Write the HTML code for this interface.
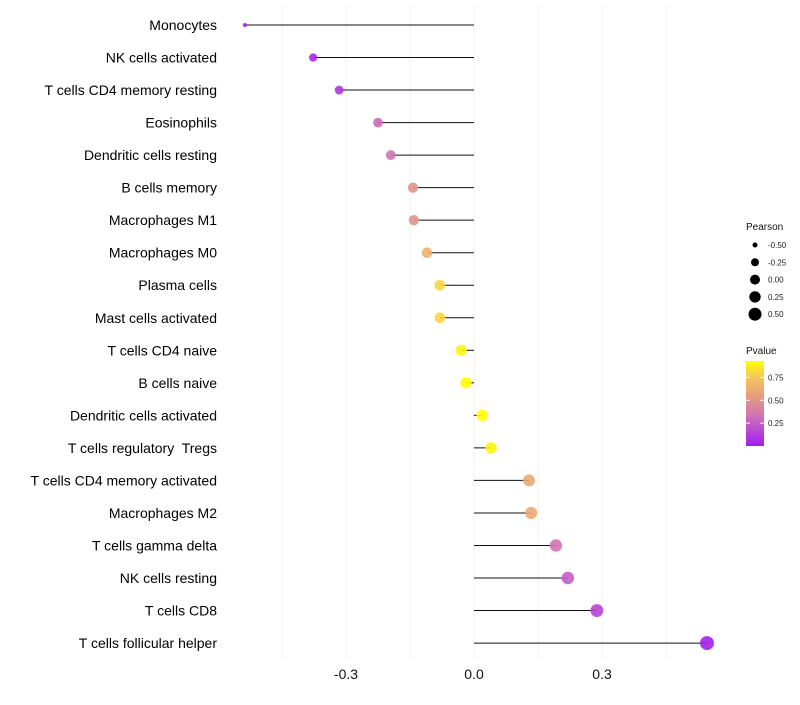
<!DOCTYPE html>
<html><head><meta charset="utf-8"><style>
body{margin:0;background:#fff;font-family:"Liberation Sans",sans-serif}
</style></head><body>
<svg id="chart" width="800" height="700" xmlns="http://www.w3.org/2000/svg"></svg>
<script>
const categories=["Monocytes","NK cells activated","T cells CD4 memory resting","Eosinophils","Dendritic cells resting","B cells memory","Macrophages M1","Macrophages M0","Plasma cells","Mast cells activated","T cells CD4 naive","B cells naive","Dendritic cells activated","T cells regulatory  Tregs","T cells CD4 memory activated","Macrophages M2","T cells gamma delta","NK cells resting","T cells CD8","T cells follicular helper"];
const pearson=[-0.537,-0.377,-0.316,-0.225,-0.195,-0.143,-0.141,-0.110,-0.080,-0.080,-0.030,-0.019,0.019,0.040,0.129,0.134,0.192,0.220,0.288,0.546];
const pvalue=[0.01,0.05,0.1,0.3,0.35,0.5,0.5,0.65,0.8,0.8,0.9,0.95,0.95,0.9,0.6,0.6,0.35,0.25,0.15,0.01];
const xTicks=[-0.3,0.0,0.3];
const sizeTicks=[-0.5,-0.25,0,0.25,0.5];
const pTicks=[0.75,0.5,0.25];
const NS="http://www.w3.org/2000/svg";
const svg=document.getElementById('chart');
function mk(t,a,p){const e=document.createElementNS(NS,t);for(const k in a)e.setAttribute(k,a[k]);(p||svg).appendChild(e);return e;}
const x=v=>474+v*426.7;
const y=i=>25+i*32.53;
const r=v=>2+5*Math.pow(Math.max(0,(v+0.537)/1.083),0.45);
const stops=[[0,[162,29,240]],[0.35,[208,113,184]],[0.6,[232,160,122]],[0.8,[245,195,96]],[1,[255,255,0]]];
function col(p){const t=Math.max(0,Math.min(1,p/0.93));for(let i=1;i<stops.length;i++){if(t<=stops[i][0]){const a=stops[i-1],b=stops[i],f=(t-a[0])/(b[0]-a[0]);return 'rgb('+a[1].map((c,j)=>Math.round(c+(b[1][j]-c)*f)).join(',')+')';}}return 'rgb(255,255,0)';}
for(let v=-0.45;v<=0.46;v+=0.15){const g=mk('line',{x1:x(v),x2:x(v),y1:5,y2:660,stroke:'#f0f0f0','stroke-width':1});

}
xTicks.forEach(v=>{const t=mk('text',{x:x(v),y:679,'font-size':14,'text-anchor':'middle',fill:'#111'});t.textContent=v.toFixed(1);

});
categories.forEach((c,i)=>{
const t=mk('text',{x:217,y:y(i)+5,'font-size':14,'text-anchor':'end',fill:'#000'});t.setAttribute('style','white-space:pre');t.textContent=c;


const l=mk('line',{x1:x(0),x2:x(pearson[i]),y1:y(i),y2:y(i),stroke:'#111','stroke-width':1});


const d=mk('circle',{cx:x(pearson[i]),cy:y(i),r:r(pearson[i]),fill:col(pvalue[i]),'fill-opacity':0.9});


});
let t=mk('text',{x:746,y:230,'font-size':10,fill:'#111'});t.textContent='Pearson';


const legR=[2.5,4,5,5.7,6.5];
sizeTicks.forEach((v,i)=>{const cy=245+i*17.3;
const c=mk('circle',{cx:755,cy:cy,r:legR[i],fill:'#000'});


const tt=mk('text',{x:768,y:cy+3,'font-size':8,fill:'#222'});tt.textContent=v.toFixed(2);

});
t=mk('text',{x:746,y:354,'font-size':10,fill:'#111'});t.textContent='Pvalue';


const defs=mk('defs',{});const lg=mk('linearGradient',{id:'pg',x1:0,y1:1,x2:0,y2:0},defs);
stops.forEach(s=>mk('stop',{offset:s[0],'stop-color':'rgb('+s[1].join(',')+')'},lg));
const bar=mk('rect',{x:746,y:361,width:18,height:85,fill:'url(#pg)'});


pTicks.forEach(v=>{const cy=446-v/0.93*85;
mk('line',{x1:746,x2:750,y1:cy,y2:cy,stroke:'#fff'});mk('line',{x1:760,x2:764,y1:cy,y2:cy,stroke:'#fff'});
const tt=mk('text',{x:768,y:cy+3,'font-size':8,fill:'#222'});tt.textContent=v.toFixed(2);

});
</script>
</body></html>
